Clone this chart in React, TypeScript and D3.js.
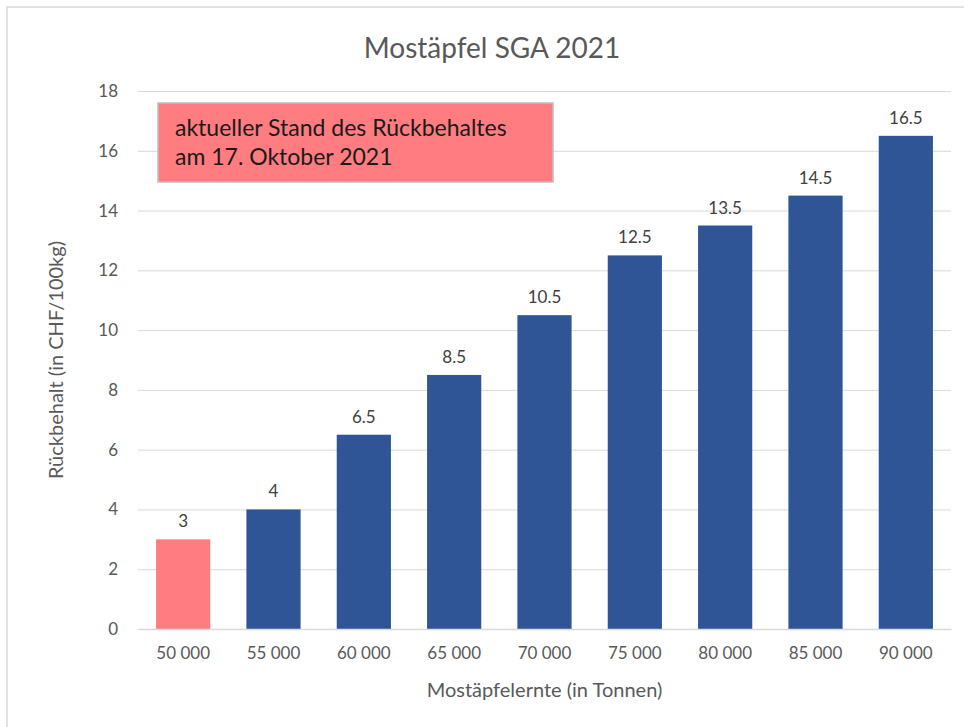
import { useEffect, useRef } from "react";
import * as d3 from "d3";

const categories = ["50 000", "55 000", "60 000", "65 000", "70 000", "75 000", "80 000", "85 000", "90 000"];
const values = [3, 4, 6.5, 8.5, 10.5, 12.5, 13.5, 14.5, 16.5];
const yTicks = [0, 2, 4, 6, 8, 10, 12, 14, 16, 18];
const highlighted = ["50 000"];
const noteLines = ["aktueller Stand des Rückbehaltes", "am 17. Oktober 2021"];

const W = 964;
const H = 727;
const MARGIN = { top: 91, right: 13, bottom: 98, left: 138 };
const FONT = "Lato, 'Open Sans', sans-serif";
const BLUE = "#2F5597";
const PINK = "#FF7C80";
const TEXT = "#595959";

export default function App() {
  const svgRef = useRef<SVGSVGElement>(null);

  useEffect(() => {
    if (!svgRef.current) return;
    const svg = d3.select(svgRef.current);
    svg.selectAll("*").remove();

    const innerWidth = W - MARGIN.left - MARGIN.right;
    const innerHeight = H - MARGIN.top - MARGIN.bottom;

    svg.append("rect").attr("width", W).attr("height", H).attr("fill", "#fff");

    // chart frame (only top/left visible in the crop)
    svg.append("path")
      .attr("d", `M7,${H} V7 H${W}`)
      .attr("fill", "none")
      .attr("stroke", "#d9d9d9")
      .attr("stroke-width", 1.5);

    const x = d3.scaleBand().domain(categories).range([0, innerWidth]).paddingInner(0.4).paddingOuter(0.2);
    const y = d3.scaleLinear().domain([0, 18]).range([innerHeight, 0]);

    const g = svg.append("g").attr("transform", `translate(${MARGIN.left},${MARGIN.top})`);

    // gridlines
    const grid = d3.axisLeft(y).tickValues(yTicks).tickSize(-innerWidth).tickFormat(() => "");
    g.append("g")
      .call(grid)
      .call((s) => s.select(".domain").remove())
      .selectAll("line")
      .attr("stroke", "#d9d9d9")
      .attr("stroke-width", 1);

    // y labels
    const yAxis = d3.axisLeft(y).tickValues(yTicks).tickSize(0).tickPadding(20);
    g.append("g")
      .call(yAxis)
      .call((s) => s.select(".domain").remove())
      .selectAll("text")
      .attr("fill", TEXT)
      .attr("font-family", FONT)
      .attr("font-size", "17px");

    // bars
    g.selectAll(".bar")
      .data(values)
      .join("rect")
      .attr("class", "bar")
      .attr("x", (_, i) => x(categories[i])!)
      .attr("width", x.bandwidth())
      .attr("y", (d) => y(d))
      .attr("height", (d) => innerHeight - y(d))
      .attr("fill", (_, i) => (highlighted.includes(categories[i]) ? PINK : BLUE));

    // value labels
    g.selectAll(".val")
      .data(values)
      .join("text")
      .attr("class", "val")
      .attr("x", (_, i) => x(categories[i])! + x.bandwidth() / 2)
      .attr("y", (d) => y(d) - 12)
      .attr("text-anchor", "middle")
      .attr("fill", "#404040")
      .attr("font-family", FONT)
      .attr("font-size", "17px")
      .text((d) => `${d}`);

    // x axis
    const xAxis = d3.axisBottom(x).tickSize(0).tickPadding(18);
    g.append("g")
      .attr("transform", `translate(0,${innerHeight})`)
      .call(xAxis)
      .call((s) => s.select(".domain").attr("stroke", "#d9d9d9").attr("stroke-width", 1.5))
      .selectAll("text")
      .attr("fill", TEXT)
      .attr("font-family", FONT)
      .attr("font-size", "17px");

    // titles
    svg.append("text")
      .attr("x", 492)
      .attr("y", 58)
      .attr("text-anchor", "middle")
      .attr("fill", TEXT)
      .attr("font-family", FONT)
      .attr("font-size", "28px")
      .text("Mostäpfel SGA 2021");

    svg.append("text")
      .attr("x", MARGIN.left + innerWidth / 2)
      .attr("y", 697)
      .attr("text-anchor", "middle")
      .attr("fill", TEXT)
      .attr("font-family", FONT)
      .attr("font-size", "20px")
      .text("Mostäpfelernte (in Tonnen)");

    svg.append("text")
      .attr("transform", `translate(63,${MARGIN.top + innerHeight / 2}) rotate(-90)`)
      .attr("text-anchor", "middle")
      .attr("fill", TEXT)
      .attr("font-family", FONT)
      .attr("font-size", "20px")
      .text("Rückbehalt (in CHF/100kg)");

    // annotation box
    const note = svg.append("g").attr("transform", "translate(158,103)");
    note.append("rect")
      .attr("width", 395)
      .attr("height", 79)
      .attr("fill", PINK)
      .attr("stroke", "#bfbfbf")
      .attr("stroke-width", 1.5);
    note.selectAll("text")
      .data(noteLines)
      .join("text")
      .attr("x", 17)
      .attr("y", (_, i) => 33 + i * 29)
      .attr("fill", "#1a1a1a")
      .attr("font-family", FONT)
      .attr("font-size", "23px")
      .text((d) => d);
  }, []);

  return (
    <div style={{ position: "absolute", left: 0, top: 0 }}>
      <svg ref={svgRef} width={W} height={H} style={{ display: "block" }} />
    </div>
  );
}
